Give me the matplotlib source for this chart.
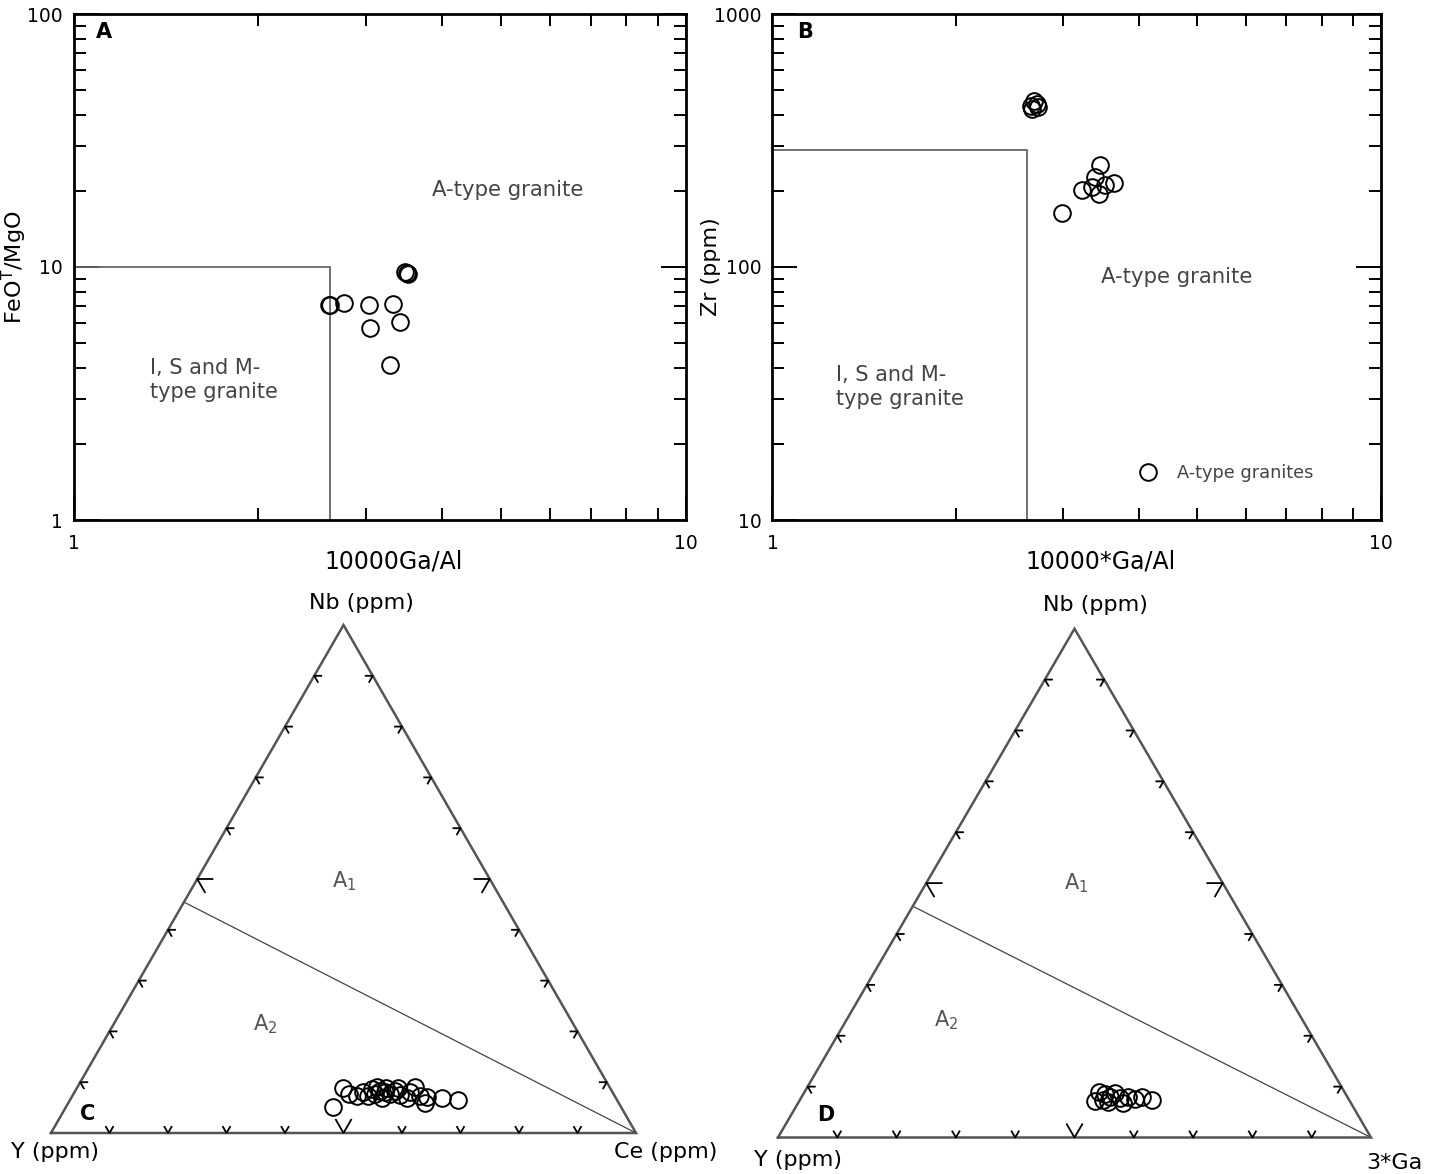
import numpy as np
import matplotlib
matplotlib.use("Agg")
import matplotlib.pyplot as plt
from matplotlib.ticker import LogLocator, FuncFormatter, NullFormatter
from matplotlib.lines import Line2D

plt.rcParams["font.family"] = ["DejaVu Sans"]
plt.rcParams["mathtext.fontset"] = "dejavusans"

# ---- panel A: FeOT/MgO vs 10000Ga/Al ----
a_gaal = [2.61, 2.62, 2.76, 3.04, 3.32, 3.41, 3.05, 3.29, 3.48, 3.52, 3.50]
a_feo_mgo = [7.08, 7.08, 7.19, 7.08, 7.14, 6.08, 5.73, 4.10, 9.58, 9.38, 9.44]
a_bound_x = [1.0, 2.62, 2.62]
a_bound_y = [10.0, 10.0, 1.0]

# ---- panel B: Zr vs 10000*Ga/Al ----
b_gaal = [2.66, 2.69, 2.72, 2.73, 2.67, 3.46, 3.39, 3.23, 3.35, 3.44, 3.64, 3.52, 2.99]
b_zr = [433, 453, 441, 429, 421, 253, 227, 201, 208, 195, 214, 211, 164]
b_bound_x = [1.0, 2.62, 2.62]
b_bound_y = [290, 290, 10]

# ---- panel C: Nb-Y-Ce ternary (%) ----
c_y = [49.3, 45.6, 45.2, 44.1, 42.6, 40.9, 40.8, 39.6, 38.2, 38.2, 37.1, 36.6, 35.8,
       34.6, 33.2, 33.3, 33.1, 32.3, 29.8, 27.1, 40.1, 42.2, 39.8, 38.9, 36.2]
c_nb = [5.2, 8.9, 7.6, 7.3, 8.1, 8.7, 7.6, 8.3, 8.9, 7.6, 8.3, 7.5, 6.8,
        8.1, 9.1, 7.2, 6.0, 7.0, 6.8, 6.5, 6.8, 7.2, 9.1, 8.0, 8.8]
c_ce = [45.6, 45.5, 47.2, 48.6, 49.3, 50.5, 51.6, 52.1, 52.9, 54.1, 54.7, 55.9, 57.4,
        57.3, 57.7, 59.5, 60.9, 60.8, 63.4, 66.4, 53.1, 50.7, 51.1, 53.1, 55.0]

# ---- panel D: Nb-Y-3*Ga ternary (%) ----
d_y = [42.9, 41.3, 40.6, 40.0, 40.8, 38.8, 38.5, 38.4, 36.9, 36.1, 34.7, 33.3, 41.5]
d_nb = [7.2, 9.0, 8.6, 8.0, 7.0, 8.7, 7.7, 6.7, 8.0, 7.5, 8.0, 7.4, 7.4]
d_ga = [49.8, 49.7, 50.9, 52.0, 52.2, 52.5, 53.8, 54.9, 55.1, 56.4, 57.3, 59.3, 51.2]

# A1/A2 divide (Y/Nb = 1.2) running to the Ce (or 3*Ga) apex
div_y = [1.2, 0.0]
div_nb = [1.0, 0.0]
div_third = [0.0, 1.0]

W, H = 1433, 1174
SQ = np.sqrt(3) / 2
text_grey = "#444444"
line_grey = "#666666"


def box(l, t, r, b):
    # pixel box -> figure fraction rect
    return [l / W, 1 - b / H, (r - l) / W, (b - t) / H]


def style_log(ax):
    ax.set_xscale("log")
    ax.set_yscale("log")
    for s in ax.spines.values():
        s.set_linewidth(2.0)
    for axis in (ax.xaxis, ax.yaxis):
        axis.set_major_locator(LogLocator(base=10))
        axis.set_minor_locator(LogLocator(base=10, subs=np.arange(2, 10)))
        axis.set_major_formatter(FuncFormatter(lambda v, _: f"{v:g}"))
        axis.set_minor_formatter(NullFormatter())
    ax.tick_params(which="both", direction="in", top=True, right=True,
                   width=1.4, labelsize=13.5)
    ax.tick_params(which="major", length=18)
    ax.tick_params(which="minor", length=8.5)
    ax.tick_params(axis="y", pad=8)
    ax.tick_params(axis="x", pad=10)


def tern(left, top, right):
    left, top, right = (np.asarray(v, float) for v in (left, top, right))
    tot = left + top + right
    return (right + top / 2) / tot, top * SQ / tot


def ternary_frame(ax):
    ax.set_xlim(0, 1)
    ax.set_ylim(0, SQ)
    ax.axis("off")
    ax.plot([0, 1, 0.5, 0], [0, 0, SQ, 0], color="#555555", lw=1.8,
            solid_joinstyle="miter", clip_on=False, zorder=3)
    for f in np.arange(1, 10) / 10:
        L = 0.026 if abs(f - 0.5) < 1e-6 else 0.012
        kw = dict(color="black", lw=1.3, clip_on=False, zorder=3)
        # base
        ax.plot([f - L / 2, f, f + L / 2], [L * SQ, 0, L * SQ], **kw)
        # left edge
        px, py = f / 2, f * SQ
        ax.plot([px + L, px, px + L / 2], [py, py, py - L * SQ], **kw)
        # right edge
        px, py = 1 - f / 2, f * SQ
        ax.plot([px - L, px, px - L / 2], [py, py, py - L * SQ], **kw)
    dx, dy = tern(div_y, div_nb, div_third)
    ax.plot(dx, dy, color="#444444", lw=0.9, clip_on=False)


fig = plt.figure(figsize=(W / 100, H / 100), dpi=100)
circ = dict(ls="none", marker="o", ms=12, mfc="none", mec="black", mew=1.4)

# ---------------- A ----------------
ax = fig.add_axes(box(74, 14, 685.5, 520))
style_log(ax)
ax.set_xlim(1, 10)
ax.set_ylim(1, 100)
ax.plot(a_bound_x, a_bound_y, color=line_grey, lw=1.3)
ax.plot(a_gaal, a_feo_mgo, **circ)
ax.set_xlabel("10000Ga/Al", fontsize=17)
ax.xaxis.set_label_coords(0.522, -0.059)
ax.set_ylabel(r"FeO$^\mathrm{T}$/MgO", fontsize=16)
ax.yaxis.set_label_coords(-0.074, 0.5)
ax.text(5.11, 20.2, "A-type granite", fontsize=15.3, color=text_grey,
        ha="center", va="center")
ax.text(1.33, 3.58, "I, S and M-\ntype granite", fontsize=15, color=text_grey,
        ha="left", va="center", linespacing=1.25)
ax.text(0.049, 0.965, "A", transform=ax.transAxes, fontsize=15,
        fontweight="bold", ha="center", va="center")

# ---------------- B ----------------
ax = fig.add_axes(box(772.5, 14, 1380.5, 520))
style_log(ax)
ax.set_xlim(1, 10)
ax.set_ylim(10, 1000)
ax.plot(b_bound_x, b_bound_y, color=line_grey, lw=1.3)
ax.plot(b_gaal, b_zr, **circ)
ax.set_xlabel("10000*Ga/Al", fontsize=17)
ax.xaxis.set_label_coords(0.539, -0.059)
ax.set_ylabel("Zr (ppm)", fontsize=16)
ax.yaxis.set_label_coords(-0.084, 0.5)
ax.text(4.63, 91.6, "A-type granite", fontsize=15.3, color=text_grey,
        ha="center", va="center")
ax.text(1.27, 33.4, "I, S and M-\ntype granite", fontsize=15, color=text_grey,
        ha="left", va="center", linespacing=1.25)
ax.text(0.054, 0.965, "B", transform=ax.transAxes, fontsize=15,
        fontweight="bold", ha="center", va="center")
handle = Line2D([], [], **circ)
ax.legend([handle], ["A-type granites"], loc="center left",
          bbox_to_anchor=(0.603, 0.093), frameon=False, borderpad=0,
          borderaxespad=0, handlelength=1.0, handletextpad=1.15,
          prop={"size": 12.8}, labelcolor=text_grey)

# ---------------- C ----------------
ax = fig.add_axes(box(51, 625, 636, 1133))
ternary_frame(ax)
x, y = tern(c_y, c_nb, c_ce)
ax.plot(x, y, clip_on=False, zorder=4, **circ)
lab = dict(fontsize=16, ha="center", va="center", clip_on=False)
ax.text(0.530, 0.903, "Nb (ppm)", **lab)
ax.text(0.007, -0.032, "Y (ppm)", **lab)
ax.text(1.050, -0.032, "Ce (ppm)", **lab)
ax.text(0.062, 0.033, "C", fontsize=15, fontweight="bold", ha="center", va="center")
ax.text(0.501, 0.430, r"A$_1$", fontsize=15, color="#555555", ha="center", va="center")
ax.text(0.366, 0.186, r"A$_2$", fontsize=15, color="#555555", ha="center", va="center")

# ---------------- D ----------------
ax = fig.add_axes(box(778, 628.7, 1371, 1137.5))
ternary_frame(ax)
x, y = tern(d_y, d_nb, d_ga)
ax.plot(x, y, clip_on=False, zorder=4, **circ)
ax.text(0.535, 0.907, "Nb (ppm)", **lab)
ax.text(0.034, -0.039, "Y (ppm)", **lab)
ax.text(1.039, -0.044, "3*Ga", **lab)
ax.text(0.081, 0.038, "D", fontsize=15, fontweight="bold", ha="center", va="center")
ax.text(0.503, 0.433, r"A$_1$", fontsize=15, color="#555555", ha="center", va="center")
ax.text(0.284, 0.200, r"A$_2$", fontsize=15, color="#555555", ha="center", va="center")

fig.savefig("out.png", dpi=100)
